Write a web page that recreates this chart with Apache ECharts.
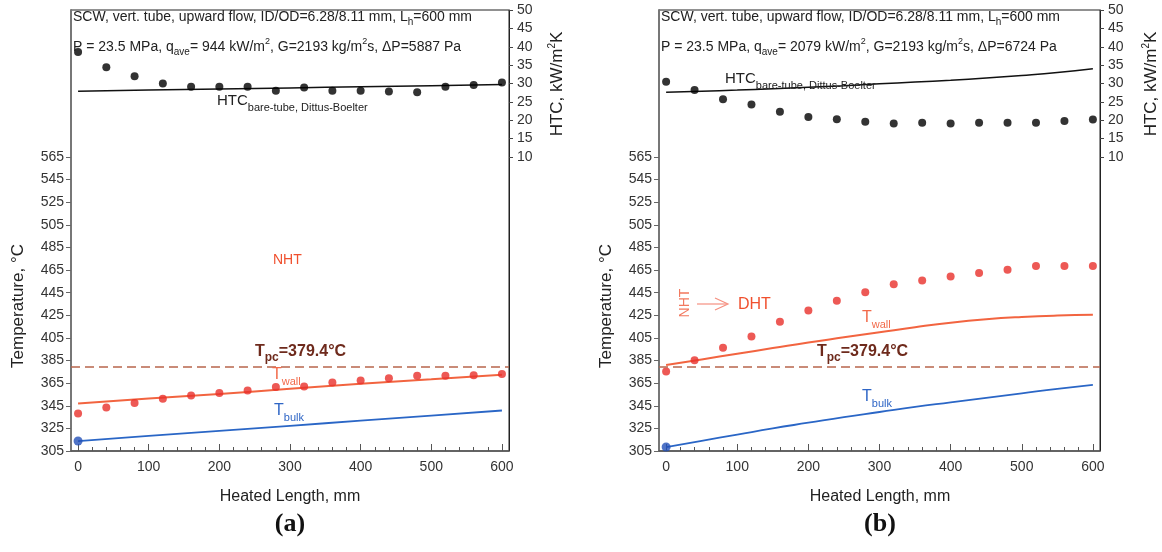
<!DOCTYPE html>
<html><head><meta charset="utf-8">
<script src="https://cdn.jsdelivr.net/npm/echarts@6/dist/echarts.min.js"></script>
<style>html,body{margin:0;padding:0;background:#fff}#c{width:1162px;height:552px}</style>
</head><body><div id="c"></div>
<script>
// ---------- data ----------
const ptX = [0,40,80,120,160,200,240,280,320,360,400,440,480,520,560,600];
const lineX7 = [0,100,200,300,400,500,600];
const lineX13 = [0,50,100,150,200,250,300,350,400,450,500,550,600];

// panel (a)
const htcDotsA = [38.6,34.4,32.0,30.0,29.1,29.1,29.1,28.0,28.9,28.0,28.0,27.8,27.6,29.1,29.6,30.3];
const htcLineA = [27.9,28.2,28.5,28.8,29.1,29.4,29.7];
const twallDotsA = [338.2,343.5,347.4,351.2,354.1,356.2,358.5,361.5,362.0,365.6,367.3,369.4,371.5,371.5,372.1,373.2];
const twallLineA = [347.0,351.5,355.5,360.0,364.5,368.5,372.5];
const tbulkLineA = [313.8,318.3,322.8,327.3,331.8,336.3,340.8];

// panel (b)
const htcDotsB = [30.5,28.2,25.7,24.3,22.3,20.9,20.3,19.6,19.1,19.3,19.1,19.3,19.3,19.3,19.8,20.2];
const htcLineB = [27.6,27.9,28.2,28.6,29.0,29.4,29.9,30.4,30.9,31.5,32.2,33.0,34.0];
const twallDotsB = [375.2,385.3,396.2,406.2,419.2,429.2,437.8,445.5,452.5,455.7,459.3,462.5,465.2,468.7,468.7,468.7];
const twallLineB = [381.0,386.0,391.0,396.0,401.0,405.5,410.0,414.5,418.5,421.5,423.5,424.8,425.5];
const tbulkLineB = [308.5,314.0,319.5,325.0,330.0,335.0,339.5,344.0,348.0,352.0,356.0,360.0,363.5];

const tpc = 379.4;

// tick labels
const xTicks = [0,100,200,300,400,500,600];
const xMinorTicks = [0,20,40,60,80,100,120,140,160,180,200,220,240,260,280,300,320,340,360,380,400,420,440,460,480,500,520,540,560,580,600];
const tempTicks = [305,325,345,365,385,405,425,445,465,485,505,525,545,565];
const htcTicks = [10,15,20,25,30,35,40,45,50];

// ---------- helpers ----------
const FONT = 'Liberation Sans, Arial, sans-serif';
const zip = (xs, ys) => xs.map((x, i) => [x, ys[i]]);

function xAxisMain(gi) {
  return {
    type: 'value', gridIndex: gi, position: 'bottom', min: -10, max: 610,
    axisLine: { show: true, onZero: false, lineStyle: { color: '#555', width: 1.5 } },
    axisTick: { show: true, inside: true, length: 7, customValues: xTicks, lineStyle: { color: '#555' } },
    axisLabel: { customValues: xTicks, fontSize: 14, color: '#333', fontFamily: FONT, margin: 9 },
    splitLine: { show: false }
  };
}
function xAxisMinor(gi) {
  return {
    type: 'value', gridIndex: gi, position: 'bottom', min: -10, max: 610,
    axisLine: { show: false, onZero: false },
    axisTick: { show: true, inside: true, length: 4, customValues: xMinorTicks, lineStyle: { color: '#555' } },
    axisLabel: { show: false },
    splitLine: { show: false }
  };
}
function yTemp(gi) {
  return {
    type: 'value', gridIndex: gi, position: 'left', min: 305, max: 695,
    axisLine: { show: true, onZero: false, lineStyle: { color: '#777', width: 2 } },
    axisTick: { show: true, length: 5, customValues: tempTicks, lineStyle: { color: '#666' } },
    axisLabel: { customValues: tempTicks, fontSize: 14, color: '#333', fontFamily: FONT, margin: 7 },
    splitLine: { show: false }
  };
}
function yHtc(gi) {
  return {
    type: 'value', gridIndex: gi, position: 'right', min: -70, max: 50,
    axisLine: { show: true, onZero: false, lineStyle: { color: '#222', width: 1 } },
    axisTick: { show: true, length: 4, customValues: htcTicks, lineStyle: { color: '#444' } },
    axisLabel: { customValues: htcTicks, fontSize: 14, color: '#333', fontFamily: FONT, margin: 8 },
    splitLine: { show: false }
  };
}

function panelSeries(xi, yT, yH, htcDots, htcLineX, htcLine, twDots, twLineX, twLine, tbLineX, tbLine) {
  return [
    { type: 'line', xAxisIndex: xi, yAxisIndex: yH, data: zip(htcLineX, htcLine), showSymbol: false,
      lineStyle: { color: '#111', width: 1.5 }, smooth: true, z: 3 },
    { type: 'scatter', xAxisIndex: xi, yAxisIndex: yH, data: zip(ptX, htcDots), symbolSize: 8,
      itemStyle: { color: '#000' }, z: 4 },
    { type: 'line', xAxisIndex: xi, yAxisIndex: yT, data: zip(twLineX, twLine), showSymbol: false,
      lineStyle: { color: '#f26440', width: 2 }, smooth: true, z: 3,
      markLine: { silent: true, symbol: 'none', label: { show: false },
        lineStyle: { type: [9, 5], color: '#b8664c', width: 1.5 }, data: [{ yAxis: tpc }] } },
    { type: 'scatter', xAxisIndex: xi, yAxisIndex: yT, data: zip(ptX, twDots), symbolSize: 8,
      itemStyle: { color: '#e8302a' }, z: 4 },
    { type: 'line', xAxisIndex: xi, yAxisIndex: yT, data: zip(tbLineX, tbLine), showSymbol: false,
      lineStyle: { color: '#2a66c6', width: 1.8 }, smooth: true, z: 3 },
    { type: 'scatter', xAxisIndex: xi, yAxisIndex: yT, data: [[tbLineX[0], tbLine[0]]], symbolSize: 9,
      itemStyle: { color: '#2350b8' }, z: 4 }
  ];
}

// ---------- annotations ----------
const richBase = {
  sub: { fontSize: 10, lineHeight: 10, verticalAlign: 'bottom', fontFamily: FONT },
  sup: { fontSize: 9, lineHeight: 9, verticalAlign: 'top', fontFamily: FONT }
};
function txt(x, y, text, o) {
  o = o || {};
  return {
    type: 'text', x: x, y: y, rotation: o.rot || 0, z: 100,
    style: {
      text: text, fill: o.color || '#222',
      fontSize: o.size || 14, fontFamily: o.family || FONT, fontWeight: o.weight || 'normal',
      lineHeight: o.lh || 20,
      align: o.align || 'left', verticalAlign: 'middle',
      rich: o.rich || richBase
    }
  };
}
const richBig = {
  sub: { fontSize: 11, lineHeight: 11, verticalAlign: 'bottom', fontFamily: FONT },
  sup: { fontSize: 10, lineHeight: 10, verticalAlign: 'top', fontFamily: FONT }
};

function panelTexts(ox, cx, line2, htcLbl, tpcLbl, twLbl, tbLbl) {
  return [
    txt(ox + 2, 17, 'SCW, vert. tube, upward flow, ID/OD=6.28/8.11 mm, L{sub|h}=600 mm'),
    txt(ox + 2, 47, line2),
    txt(htcLbl[0], htcLbl[1], 'HTC{sub|bare-tube, Dittus-Boelter}', { size: 15, lh: 24, rich: richBig }),
    txt(tpcLbl[0], tpcLbl[1], 'T{sub|pc}=379.4°C', { size: 16, lh: 24, color: '#6e2a1c', weight: 'bold', rich: { sub: { fontSize: 12, lineHeight: 12, verticalAlign: 'bottom', fontFamily: FONT, fontWeight: 'bold', fill: '#6e2a1c' } } }),
    txt(twLbl[0], twLbl[1], 'T{sub|wall}', { size: 16, lh: 24, color: '#f26a4a', rich: { sub: { fontSize: 11, lineHeight: 11, verticalAlign: 'bottom', fontFamily: FONT, fill: '#f26a4a' } } }),
    txt(tbLbl[0], tbLbl[1], 'T{sub|bulk}', { size: 16, lh: 24, color: '#2f66c6', rich: { sub: { fontSize: 11, lineHeight: 11, verticalAlign: 'bottom', fontFamily: FONT, fill: '#2f66c6' } } }),
    txt(cx, 497, 'Heated Length, mm', { size: 16, align: 'center', color: '#222' }),
    txt(ox - 53, 306, 'Temperature, °C', { size: 17, align: 'center', rot: Math.PI / 2, color: '#222' })
  ];
}

const graphics = [].concat(
  panelTexts(71, 290,
    'P = 23.5 MPa, q{sub|ave}= 944 kW/m{sup|2}, G=2193 kg/m{sup|2}s, ΔP=5887 Pa',
    [217, 101], [255, 352], [272, 375], [274, 411]),
  panelTexts(659, 880,
    'P = 23.5 MPa, q{sub|ave}= 2079 kW/m{sup|2}, G=2193 kg/m{sup|2}s, ΔP=6724 Pa',
    [725, 79], [817, 352], [862, 318], [862, 397]),
  [
    txt(557, 84, 'HTC, kW/m{sup|2}K', { size: 17, align: 'center', rot: Math.PI / 2, rich: richBig }),
    txt(1151, 84, 'HTC, kW/m{sup|2}K', { size: 17, align: 'center', rot: Math.PI / 2, rich: richBig }),
    txt(273, 260, 'NHT', { size: 14, color: '#f0502e' }),
    txt(685, 303, 'NHT', { size: 14, color: '#f27a60', align: 'center', rot: Math.PI / 2 }),
    { type: 'line', z: 100, shape: { x1: 697, y1: 304, x2: 727, y2: 304 }, style: { stroke: '#f59080', lineWidth: 1.2 } },
    { type: 'polyline', z: 100, shape: { points: [[715, 298], [728, 304], [715, 310]] }, style: { stroke: '#f59080', lineWidth: 1.2, fill: null } },
    txt(738, 305, 'DHT', { size: 16, color: '#f0502e' }),
    txt(290, 524, '(a)', { size: 26, weight: 'bold', family: 'Liberation Serif, Times New Roman, serif', align: 'center', color: '#111', lh: 30 }),
    txt(880, 524, '(b)', { size: 26, weight: 'bold', family: 'Liberation Serif, Times New Roman, serif', align: 'center', color: '#111', lh: 30 })
  ]
);

const chart = echarts.init(document.getElementById('c'), null, { renderer: 'canvas' });
chart.setOption({
  animation: false,
  backgroundColor: '#fff',
  textStyle: { fontFamily: FONT },
  grid: [
    { left: 71, top: 10, width: 438, height: 441, show: true, borderColor: '#222', borderWidth: 1, backgroundColor: 'transparent', containLabel: false },
    { left: 659, top: 10, width: 441, height: 441, show: true, borderColor: '#222', borderWidth: 1, backgroundColor: 'transparent', containLabel: false }
  ],
  xAxis: [xAxisMain(0), xAxisMain(1), xAxisMinor(0), xAxisMinor(1)],
  yAxis: [yTemp(0), yHtc(0), yTemp(1), yHtc(1)],
  series: [].concat(
    panelSeries(0, 0, 1, htcDotsA, lineX7, htcLineA, twallDotsA, lineX7, twallLineA, lineX7, tbulkLineA),
    panelSeries(1, 2, 3, htcDotsB, lineX13, htcLineB, twallDotsB, lineX13, twallLineB, lineX13, tbulkLineB)
  ),
  graphic: graphics
});
</script>
</body></html>
